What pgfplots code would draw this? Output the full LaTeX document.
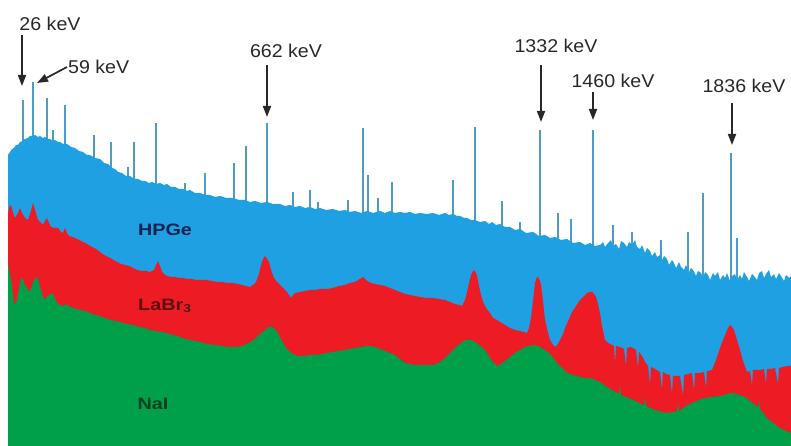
\documentclass[border=0pt]{standalone}
\usepackage{pgfplots}
\pgfplotsset{compat=1.18}
\usepackage{fontspec}
\setmainfont{Liberation Sans}
\newfontfamily\keVfont[FakeStretch=1.06]{Liberation Sans}
\newfontfamily\detfont[FakeStretch=1.2]{Liberation Sans}
\usetikzlibrary{arrows.meta}

\definecolor{hpge}{RGB}{30,160,226}
\definecolor{labr}{RGB}{237,28,36}
\definecolor{nai}{RGB}{0,160,75}
\definecolor{spike}{RGB}{78,156,196}
\definecolor{hpgetxt}{RGB}{20,35,80}
\definecolor{labrtxt}{RGB}{95,15,15}
\definecolor{naitxt}{RGB}{15,65,30}
\definecolor{keytxt}{RGB}{40,40,40}

\begin{document}
\begin{tikzpicture}
\begin{axis}[
  name=ax,
  width=791pt, height=446pt, scale only axis,
  xmin=0, xmax=791, ymin=0, ymax=446,
  hide axis, clip=false,
]
% HPGe photopeaks (narrow lines), drawn first so the continuum covers their base
\addplot[ycomb, line width=2.3pt, color=spike, mark=none] coordinates {
(23,346)(33,364)(47,348)(53,316)(65,341)(94,311)(111,304)(128,279)(134,304)
(156,323)(185,263)(205,273)(234,283)(246,300)(267,323)(293,254)(310,256)
(318,244)(348,246)(363,318)(368,271)(378,248)(392,264)(453,266)(475,319)
(502,245)(520,224)(540,316)(558,233)(571,227)(593,316)(613,221)(632,214)
(661,206)(688,214)(703,253)(731,293)(737,208)
};
% HPGe continuum
\addplot[fill=hpge, draw=none] coordinates {
(8,291)(10,294)(12,297)(14,298)(16,301)(18,301)(20,304)(23,305)(25,307)(28,308)
(30,310)(33,310)(35,311)(38,309)(40,310)(43,308)(45,309)(48,307)(50,307)(53,305)
(55,306)(58,304)(60,304)(63,302)(67,302)(71,299)(75,298)(79,295)(83,294)(87,291)
(90,291)(95,288)(100,287)(104,283)(108,282)(112,278)(115,277)(118,274)(122,273)
(126,270)(130,270)(134,267)(138,267)(142,265)(145,265)(149,263)(152,264)(156,262)
(160,263)(164,261)(167,262)(171,259)(175,259)(179,257)(183,257)(187,255)(190,256)
(195,253)(200,253)(205,251)(210,251)(215,249)(220,250)(226,248)(233,248)(239,246)
(245,246)(250,244)(255,245)(261,243)(267,244)(273,242)(280,242)(285,240)(290,241)
(295,239)(300,240)(305,238)(310,239)(315,237)(320,238)(326,236)(333,237)(339,235)
(345,236)(350,234)(355,235)(361,233)(367,235)(373,233)(380,235)(385,233)(390,235)
(395,233)(400,234)(405,233)(410,234)(415,232)(420,233)(427,232)(433,233)(439,231)
(445,233)(449,231)(453,232)(457,230)(460,230)(464,228)(467,228)(471,226)(475,226)
(480,224)(485,225)(489,222)(492,224)(496,221)(500,222)(505,219)(510,219)(515,216)
(520,217)(526,213)(533,214)(539,210)(545,211)(550,208)(555,209)(561,206)(567,207)
(573,203)(580,204)(585,201)(590,203)(595,200)
(600,201)(603,204)(605,199)(608,203)(611,206)(613,200)(616,202)(619,197)(621,205)
(624,203)(627,199)(629,204)(632,201)(635,206)(637,199)(640,197)(642,201)(645,193)
(647,198)(650,195)(652,190)(655,194)(657,189)(660,191)(662,186)(664,190)(667,187)
(669,181)(672,186)(674,183)(676,178)(679,184)(681,179)(684,176)(686,181)(689,174)
(691,178)(693,176)(696,170)(698,175)(701,173)(703,168)(705,174)(708,171)(710,166)
(713,173)(715,170)(718,174)(720,166)(723,171)(725,168)(727,173)(730,165)(732,170)
(735,172)(737,166)(740,171)(742,167)(744,174)(747,169)(749,165)(752,172)(754,170)
(757,166)(759,173)(762,175)(764,168)(766,172)(769,176)(771,169)(774,172)(776,167)
(779,173)(781,170)(784,165)(786,171)(789,168)(791,170)
} \closedcycle;
% LaBr3 spectrum
\addplot[fill=labr, draw=none] coordinates {
(8,231)(9,238)(11,241)(13,233)(15,228)(18,233)(20,238)(22,233)(25,228)(28,226)
(31,235)(33,243)(35,236)(38,226)(41,223)(43,221)(45,225)(47,228)(49,223)(51,219)
(55,218)(58,218)(61,214)(63,213)(65,218)(67,213)(69,210)(72,209)(75,208)(79,206)
(83,204)(87,202)(92,199)(96,197)(100,194)(104,191)(108,189)(112,187)(117,184)
(121,182)(125,181)(129,180)(133,178)(137,176)(142,175)(146,175)(150,174)(154,176)
(156,181)(158,185)(160,180)(162,174)(165,171)(167,170)(171,169)(175,169)(179,168)
(183,168)(187,167)(192,167)(196,166)(200,166)(206,166)(212,165)(217,164)(222,164)
(228,163)(233,163)(238,162)(242,161)(246,160)(250,159)(253,161)(256,164)(259,172)
(261,181)(263,187)(265,190)(267,187)(269,184)(271,176)(274,168)(277,164)(280,161)
(284,157)(287,154)(289,151)(291,148)(293,151)(295,153)(300,154)(305,155)(310,156)
(315,156)(320,157)(327,157)(333,158)(339,160)(345,161)(350,163)(355,164)(358,166)
(360,167)(363,169)(365,167)(367,165)(371,163)(375,162)(380,161)(385,160)(390,158)
(395,156)(400,154)(405,152)(410,151)(415,150)(420,149)(427,148)(433,148)(439,147)
(445,146)(450,144)(455,142)(459,141)(462,140)(465,146)(467,154)(469,163)(471,171)
(473,175)(474,176)(476,173)(477,170)(479,160)(481,151)(483,144)(486,138)(490,133)
(493,128)(497,126)(500,124)(505,121)(510,118)(515,116)(520,115)(524,114)(527,113)
(529,118)(531,128)(533,145)(535,163)(537,169)(538,169)(540,165)(541,161)(543,145)
(545,126)(548,113)(550,106)(553,101)(555,99)(558,102)(560,106)(563,112)(565,118)
(569,127)(572,134)(576,140)(580,146)(584,150)(587,153)(590,154)(592,154)(594,152)
(596,149)(598,142)(600,133)(602,120)(605,106)(608,103)(610,102)(612,101)(614,100)
(615,82)(616,100)(620,99)(624,97)(626,80)(627,98)(630,99)(633,98)(636,96)(638,78)
(639,94)(642,90)(645,84)(648,80)(650,62)(651,79)(655,77)(660,74)(662,56)(663,74)
(666,72)(670,71)(672,52)(673,70)(676,70)(680,70)(683,50)(684,71)(688,72)(692,73)
(694,55)(695,73)(700,73)(704,74)(706,58)(707,75)(712,76)(716,86)(720,98)(723,106)
(726,113)(728,118)(730,121)(732,119)(734,116)(737,106)(740,96)(743,85)(747,74)
(750,75)(752,60)(753,76)(757,76)(760,76)(764,77)(766,62)(767,77)(771,77)(775,78)
(778,62)(779,78)(783,79)(787,80)(791,80)
} \closedcycle;
% NaI spectrum
\addplot[fill=nai, draw=none] coordinates {
(8,184)(9,176)(11,166)(13,150)(14,141)(16,143)(17,146)(19,158)(21,168)(23,166)
(25,161)(28,156)(30,154)(32,160)(34,166)(37,169)(39,163)(41,156)(44,146)(46,148)
(48,150)(52,153)(55,148)(57,143)(60,141)(62,140)(65,141)(68,141)(70,139)(73,138)
(77,137)(80,136)(85,135)(90,133)(95,131)(100,130)(105,128)(110,126)(115,125)
(120,124)(127,122)(133,121)(139,119)(145,118)(150,116)(155,115)(161,114)(167,113)
(173,111)(180,109)(185,107)(190,106)(195,105)(200,104)(207,102)(215,101)(222,100)
(230,99)(236,99)(242,100)(247,102)(252,105)(256,108)(260,112)(264,115)(267,118)
(270,119)(272,119)(275,117)(277,114)(280,109)(283,103)(286,98)(290,94)(293,92)
(297,90)(303,90)(310,91)(316,91)(322,92)(327,93)(333,94)(339,95)(345,96)(350,97)
(355,98)(361,99)(367,100)(371,100)(375,99)(380,97)(385,95)(390,93)(395,91)(400,87)
(405,83)(410,82)(415,81)(420,81)(427,81)(433,81)(438,83)(443,86)(447,90)(452,95)
(456,99)(460,102)(464,105)(467,106)(471,106)(475,104)(479,101)(483,98)(487,93)
(490,88)(494,83)(497,80)(501,82)(505,85)(510,89)(515,93)(520,96)(525,99)(529,100)
(533,101)(538,100)(542,98)(546,95)(550,92)(554,87)(558,82)(563,77)(567,73)(573,71)
(580,69)(585,68)(590,68)(595,66)(600,64)(607,59)(615,54)(619,52)(620,60)(621,51)
(624,50)(633,46)(641,42)(644,41)(645,49)(646,40)(650,38)(658,35)(667,33)(673,34)
(677,35)(678,43)(679,35)(686,40)(692,43)(699,46)(705,48)(712,49)(720,50)(727,52)
(733,53)(739,51)(745,49)(750,45)(755,41)(758,38)(759,46)(760,37)(767,28)(773,23)
(780,18)(786,15)(791,13)
} \closedcycle;

% detector labels
\tikzset{det/.style={font=\detfont\fontsize{16.5}{18}\selectfont\bfseries, inner sep=0pt}}
\node[det, text=hpgetxt] at (axis cs:165,216) {HPGe};
\node[det, text=labrtxt, anchor=west] at (axis cs:138,140) {LaBr\textsubscript{3}};
\node[det, text=naitxt] at (axis cs:153,42) {NaI};

% energy markers
\tikzset{peak/.style={draw=keytxt, line width=1.7pt,
  -{Triangle[length=11pt,width=8pt]}},
  keV/.style={font=\keVfont\fontsize{18.5}{20}\selectfont, text=keytxt, inner sep=0pt}}
\node[keV] at (axis cs:50,422) {26 keV};
\draw[peak] (axis cs:22,411) -- (axis cs:22,360);
\node[keV, anchor=west] at (axis cs:68,379) {59 keV};
\draw[peak] (axis cs:67,379) -- (axis cs:37,363);
\node[keV] at (axis cs:286,395) {662 keV};
\draw[peak] (axis cs:267,381) -- (axis cs:267,329);
\node[keV] at (axis cs:556,400) {1332 keV};
\draw[peak] (axis cs:541,381) -- (axis cs:541,324);
\node[keV] at (axis cs:613,365) {1460 keV};
\draw[peak] (axis cs:593,354) -- (axis cs:593,326);
\node[keV] at (axis cs:744,360) {1836 keV};
\draw[peak] (axis cs:732,343) -- (axis cs:732,301);
\end{axis}
\pgfresetboundingbox
\path[use as bounding box] (ax.south west) rectangle (ax.north east);
\end{tikzpicture}
\end{document}
